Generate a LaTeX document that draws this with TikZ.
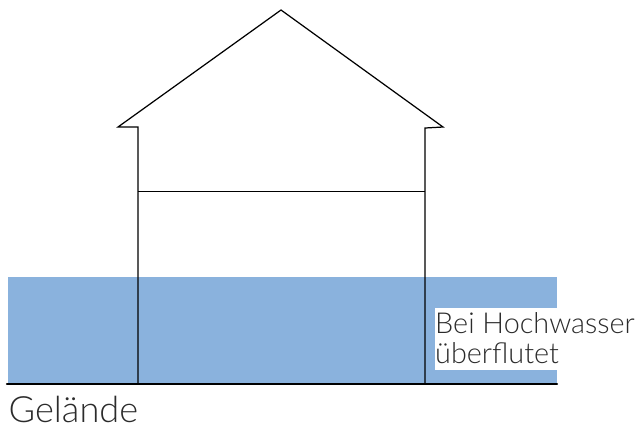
\documentclass[tikz,border=0pt]{standalone}
\usepackage{fontspec}
\setmainfont{Lato}[UprightFont=* Light]
\usetikzlibrary{calc}
\definecolor{flood}{HTML}{8AB2DD}
\definecolor{labeltext}{HTML}{2B2B2B}

\tikzset{
  wall/.style={draw=black, line width=0.35pt, line join=miter},
  ground/.style={draw=black, line width=0.7pt, line cap=round},
  labeltxt/.style={inner sep=0pt, anchor=base west, text=labeltext, font=\fontsize{8.2}{10}\selectfont},
  bigtxt/.style={labeltxt, font=\fontsize{10.3}{12}\selectfont},
}

\begin{document}
\begin{tikzpicture}
    \useasboundingbox (0,0) rectangle (6.38,4.29);

    \coordinate (ridge) at (2.81,4.19);
    \coordinate (eaveL) at (1.18,3.02);
    \coordinate (eaveR) at (4.43,3.02);
    \coordinate (topL) at (1.38,3.02);
    \coordinate (topR) at (4.25,3.01);
    \coordinate (floorL) at (1.38,2.375);
    \coordinate (floorR) at (4.25,2.375);
    \coordinate (baseL) at (1.38,0.45);
    \coordinate (baseR) at (4.25,0.45);
    \coordinate (groundL) at (0.07,0.45);
    \coordinate (groundR) at (5.57,0.45);

    \fill[flood] (0.08,0.45) rectangle (5.57,1.52);
    \fill[white] (4.35,0.59) rectangle (5.57,1.21);

    \draw[wall] (baseL) -- (topL) -- (eaveL) -- (ridge) -- (eaveR) -- (topR) -- (baseR);
    \draw[wall] (floorL) -- (floorR);
    \draw[ground] (groundL) -- (groundR);

    \node[labeltxt] (flooded1) at (4.345,0.96) {Bei Hochwasser};
    \node[labeltxt] (flooded2) at (4.345,0.66) {überflutet};
    \node[bigtxt] (terrain) at (0.08,0.07) {Gelände};
  \end{tikzpicture}
\end{document}
